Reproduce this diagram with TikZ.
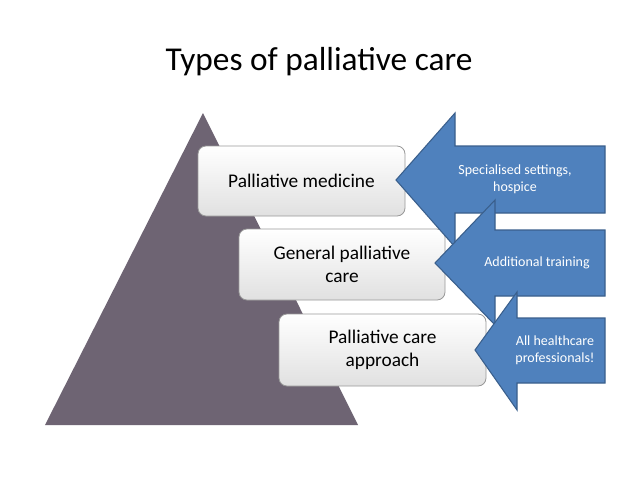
\documentclass[tikz,border=0pt]{standalone}
\usepackage{fontspec}
\setmainfont{Carlito}
\begin{document}
\begin{tikzpicture}[x=0.75pt,y=-0.75pt,
  boxst/.style={draw=black!40,rounded corners=6pt,top color=white,bottom color=black!12,line width=0.6pt},
  arr/.style={fill=arrblue,draw=arrline,line width=0.8pt},
  btxt/.style={font=\fontsize{14.5pt}{17pt}\selectfont,align=center,text=black},
  atxt/.style={font=\fontsize{10.5pt}{13pt}\selectfont,align=center,text=white}]
\definecolor{arrblue}{HTML}{4F81BD}
\definecolor{arrline}{HTML}{3A5F8C}
\definecolor{tri}{HTML}{6E6473}
\useasboundingbox (0,0) rectangle (638,479);
\fill[white] (0,0) rectangle (638,479);
\node (title) at (319,62) {\fontsize{25pt}{30pt}\selectfont Types of palliative care};
\fill[tri] (203,113) -- (358,425) -- (45,425) -- cycle;
\path[boxst] (198,146) rectangle (405,216);
\node[btxt] (b1) at (301.5,181) {Palliative medicine};
\path[boxst] (239,229) rectangle (445,300);
\node[btxt] (b2) at (342,264.5) {General palliative\\care};
\path[boxst] (279,314) rectangle (486,386);
\node[btxt] (b3) at (382.5,350) {Palliative care\\approach};
\path[arr] (396,180) -- (455,113) -- (455,146) -- (605,146) -- (605,213) -- (455,213) -- (455,247) -- cycle;
\node[atxt] (a1) at (515,179.5) {Specialised settings,\\hospice};
\path[arr] (435,263) -- (495,200) -- (495,230) -- (605,230) -- (605,296) -- (495,296) -- (495,325) -- cycle;
\node[atxt] (a2) at (537,263) {Additional training};
\path[arr] (475,350) -- (517,292) -- (517,318) -- (605,318) -- (605,383) -- (517,383) -- (517,410) -- cycle;
\node[atxt] (a3) at (555,350) {All healthcare\\professionals!};
\end{tikzpicture}
\end{document}
